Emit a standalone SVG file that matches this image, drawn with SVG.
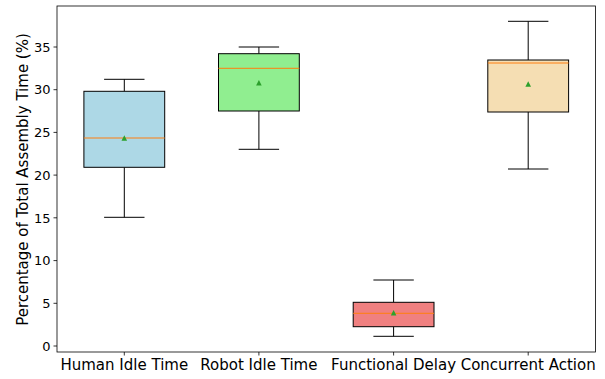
<svg xmlns="http://www.w3.org/2000/svg" width="605" height="379" viewBox="0 0 605 379">
<style>
text{font-family:"DejaVu Sans",sans-serif;fill:#000}
.tick{font-size:13px}
.xl{font-size:15px;text-anchor:middle}
.box{stroke:#000;stroke-width:1}
.wh{stroke:#000;stroke-width:1;fill:none}
.med{stroke:#ff7f0e;stroke-width:1}
.mean{fill:#2ca02c}
.spine{stroke:#000;stroke-width:0.8;fill:none}
</style>
<rect width="605" height="379" fill="#fff"/>
<g id="axes">
<rect class="spine" x="57" y="6" width="538.5" height="346"/>
<g stroke="#000" stroke-width="0.8">
<line x1="53.5" y1="346" x2="57" y2="346"/>
<line x1="53.5" y1="303.3" x2="57" y2="303.3"/>
<line x1="53.5" y1="260.6" x2="57" y2="260.6"/>
<line x1="53.5" y1="217.8" x2="57" y2="217.8"/>
<line x1="53.5" y1="175.1" x2="57" y2="175.1"/>
<line x1="53.5" y1="132.4" x2="57" y2="132.4"/>
<line x1="53.5" y1="89.7" x2="57" y2="89.7"/>
<line x1="53.5" y1="47" x2="57" y2="47"/>
<line x1="124.3" y1="352" x2="124.3" y2="355.5"/>
<line x1="258.9" y1="352" x2="258.9" y2="355.5"/>
<line x1="393.6" y1="352" x2="393.6" y2="355.5"/>
<line x1="528.2" y1="352" x2="528.2" y2="355.5"/>
</g>
<g class="tick" text-anchor="end">
<text x="50.5" y="350.7">0</text>
<text x="50.5" y="308">5</text>
<text x="50.5" y="265.3">10</text>
<text x="50.5" y="222.5">15</text>
<text x="50.5" y="179.8">20</text>
<text x="50.5" y="137.1">25</text>
<text x="50.5" y="94.4">30</text>
<text x="50.5" y="51.7">35</text>
</g>
<text class="xl" x="124.3" y="370">Human Idle Time</text>
<text class="xl" x="258.9" y="370">Robot Idle Time</text>
<text class="xl" x="393.6" y="370">Functional Delay</text>
<text class="xl" x="528.2" y="370">Concurrent Action</text>
<text class="xl" transform="translate(27.5,179.5) rotate(-90)">Percentage of Total Assembly Time (%)</text>
</g>
<g id="connectors">
<line class="wh" x1="124.3" y1="167.3" x2="124.3" y2="217.3"/>
<line class="wh" x1="124.3" y1="91.3" x2="124.3" y2="79.3"/>
<line class="wh" x1="104.1" y1="217.3" x2="144.5" y2="217.3"/>
<line class="wh" x1="104.1" y1="79.3" x2="144.5" y2="79.3"/>
<line class="wh" x1="258.9" y1="111" x2="258.9" y2="149.3"/>
<line class="wh" x1="258.9" y1="53.7" x2="258.9" y2="47"/>
<line class="wh" x1="238.7" y1="149.3" x2="279.1" y2="149.3"/>
<line class="wh" x1="238.7" y1="47" x2="279.1" y2="47"/>
<line class="wh" x1="393.6" y1="326.7" x2="393.6" y2="336.3"/>
<line class="wh" x1="393.6" y1="302.3" x2="393.6" y2="280"/>
<line class="wh" x1="373.4" y1="336.3" x2="413.8" y2="336.3"/>
<line class="wh" x1="373.4" y1="280" x2="413.8" y2="280"/>
<line class="wh" x1="528.2" y1="112" x2="528.2" y2="169"/>
<line class="wh" x1="528.2" y1="60" x2="528.2" y2="21.3"/>
<line class="wh" x1="508" y1="169" x2="548.4" y2="169"/>
<line class="wh" x1="508" y1="21.3" x2="548.4" y2="21.3"/>
</g>
<g id="human-idle-time">
<rect class="box" x="83.9" y="91.3" width="80.8" height="76" fill="#add8e6"/>
<line class="med" x1="83.9" y1="138" x2="164.7" y2="138"/>
<path class="mean" d="M124.3,135.2 L127.1,140.8 L121.5,140.8 Z"/>
</g>
<g id="robot-idle-time">
<rect class="box" x="218.5" y="53.7" width="80.8" height="57.3" fill="#90ee90"/>
<line class="med" x1="218.5" y1="68.3" x2="299.3" y2="68.3"/>
<path class="mean" d="M258.9,79.9 L261.7,85.5 L256.1,85.5 Z"/>
</g>
<g id="functional-delay">
<rect class="box" x="353.2" y="302.3" width="80.8" height="24.4" fill="#f08080"/>
<line class="med" x1="353.2" y1="313.3" x2="434" y2="313.3"/>
<path class="mean" d="M393.6,309.9 L396.4,315.5 L390.8,315.5 Z"/>
</g>
<g id="concurrent-action">
<rect class="box" x="487.8" y="60" width="80.8" height="52" fill="#f5deb3"/>
<line class="med" x1="487.8" y1="63" x2="568.6" y2="63"/>
<path class="mean" d="M528.2,81.2 L531,86.8 L525.4,86.8 Z"/>
</g>
</svg>
